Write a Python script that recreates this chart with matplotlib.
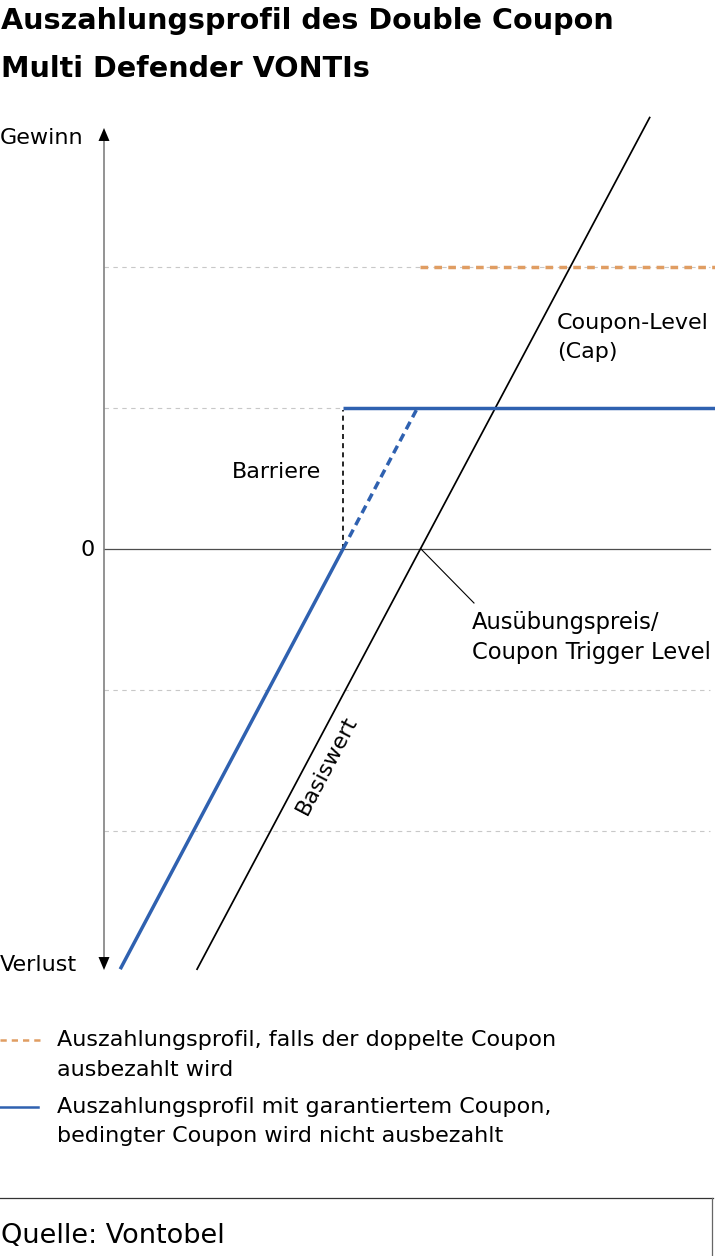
import matplotlib
matplotlib.use("Agg")
import matplotlib.pyplot as plt
from matplotlib.patches import Polygon
from matplotlib.lines import Line2D

# ---------------- data (schematic units) ----------------
grid_levels = [-2, -1, 1, 2]
zero_level = 0.0
x_end = 4.30
axis_top = 2.986
axis_bottom = -2.986

basis_x = [0.66, 3.87]
basis_y = [-2.98, 3.06]

blue_loss_x = [0.115, 1.695]
blue_loss_y = [-2.98, 0.0]

blue_dash_x = [1.695, 2.215]
blue_dash_y = [0.0, 0.985]

blue_flat_x = [1.695, 4.33]
blue_flat_y = [1.0, 1.0]

orange_x = [2.24, 4.33]
orange_y = [2.0, 2.0]

barrier_x = [1.695, 1.695]
barrier_y = [0.0, 0.985]

leader_x = [2.248, 2.624]
leader_y = [0.0, -0.383]

title_lines = ["Auszahlungsprofil des Double Coupon", "Multi Defender VONTIs"]
legend_texts = ["Auszahlungsprofil, falls der doppelte Coupon\nausbezahlt wird",
                "Auszahlungsprofil mit garantiertem Coupon,\nbedingter Coupon wird nicht ausbezahlt"]
source_text = "Quelle: Vontobel"

BLUE = "#2f61b0"
ORANGE = "#e09d62"
GRID = "#c8c8c8"

W, H = 715, 1256
plt.rcParams['font.family'] = ['DejaVu Sans']

fig = plt.figure(figsize=(W / 100, H / 100), dpi=100)
ax = fig.add_axes([0, 0, 1, 1])
U = 141.0
OX, OY = 104.0, 549.0
ax.set_xlim(-OX / U, (W - OX) / U)
ax.set_ylim(-(H - OY) / U, OY / U)
ax.axis('off')


def fx(px):
    return px / W


def fy(py):
    return 1 - py / H


# gridlines
for g in grid_levels:
    ax.plot([0, x_end], [g, g], color=GRID, lw=0.8, dashes=(4, 4), zorder=1)
# zero line
ax.plot([0, x_end], [zero_level, zero_level], color="#4d4d4d", lw=0.9, zorder=2)

# vertical axis with arrows
ax.plot([0, 0], [axis_bottom + 0.06, axis_top - 0.06], color="#808080", lw=1.2, zorder=3)
hw = 5.5 / U
hh = 13 / U
ax.add_patch(Polygon([[0, axis_top], [-hw, axis_top - hh], [hw, axis_top - hh]],
                     closed=True, color="black", zorder=4, lw=0))
ax.add_patch(Polygon([[0, axis_bottom], [-hw, axis_bottom + hh], [hw, axis_bottom + hh]],
                     closed=True, color="black", zorder=4, lw=0))

# Basiswert
ax.plot(basis_x, basis_y, color="black", lw=1.25, zorder=5)
# leader line
ax.plot(leader_x, leader_y, color="black", lw=0.8, zorder=5)

# barrier dotted
ax.plot(barrier_x, barrier_y, color="black", lw=1.2, dashes=(3, 2.5), zorder=4)

# blue lines
ax.plot(blue_loss_x, blue_loss_y, color=BLUE, lw=2.5, zorder=6, solid_capstyle='butt')
ax.plot(blue_dash_x, blue_dash_y, color=BLUE, lw=2.5, dashes=(2.4, 1.5), zorder=6)
ax.plot(blue_flat_x, blue_flat_y, color=BLUE, lw=2.5, zorder=6, solid_capstyle='butt')

# orange
ax.plot(orange_x, orange_y, color=ORANGE, lw=2.5, dashes=(2.2, 1.8), zorder=6)

# ---------------- texts ----------------
FS = 16
fig.text(fx(1), fy(21), title_lines[0], fontsize=20.6, fontweight='bold', ha='left', va='center')
fig.text(fx(1), fy(69), title_lines[1], fontsize=20.6, fontweight='bold', ha='left', va='center')

fig.text(fx(0), fy(138), "Gewinn", fontsize=FS, ha='left', va='center')
fig.text(fx(0), fy(965), "Verlust", fontsize=FS, ha='left', va='center')
fig.text(fx(95), fy(550), "0", fontsize=FS, ha='right', va='center')
fig.text(fx(232), fy(472), "Barriere", fontsize=FS, ha='left', va='center')
fig.text(fx(557), fy(323), "Coupon-Level", fontsize=FS, ha='left', va='center')
fig.text(fx(557), fy(352), "(Cap)", fontsize=FS, ha='left', va='center')
fig.text(fx(472), fy(622), "Ausübungspreis/", fontsize=16.3, ha='left', va='center')
fig.text(fx(472), fy(652), "Coupon Trigger Level", fontsize=16.3, ha='left', va='center')
fig.text(fx(327), fy(765), "Basiswert", fontsize=FS, ha='center', va='center',
         rotation=62.2, rotation_mode='anchor')

# legend
fig.add_artist(Line2D([fx(0), fx(40)], [fy(1040), fy(1040)], color=ORANGE, lw=1.8, dashes=(2.5, 2)))
fig.add_artist(Line2D([fx(0), fx(38)], [fy(1107), fy(1107)], color=BLUE, lw=1.8))
for txt, y0 in zip(legend_texts, [1040, 1107]):
    l1, l2 = txt.split("\n")
    fig.text(fx(57), fy(y0), l1, fontsize=FS, ha='left', va='center')
    fig.text(fx(57), fy(y0 + 29.5), l2, fontsize=FS, ha='left', va='center')

# footer
fig.add_artist(Line2D([fx(0), fx(713)], [fy(1198), fy(1198)], color="#333333", lw=0.9))
fig.add_artist(Line2D([fx(712), fx(712)], [fy(1198), fy(1256)], color="#666666", lw=0.9))
fig.text(fx(1), fy(1236), source_text, fontsize=19.5, ha='left', va='center')

fig.savefig("out.png", dpi=100, facecolor="white")
